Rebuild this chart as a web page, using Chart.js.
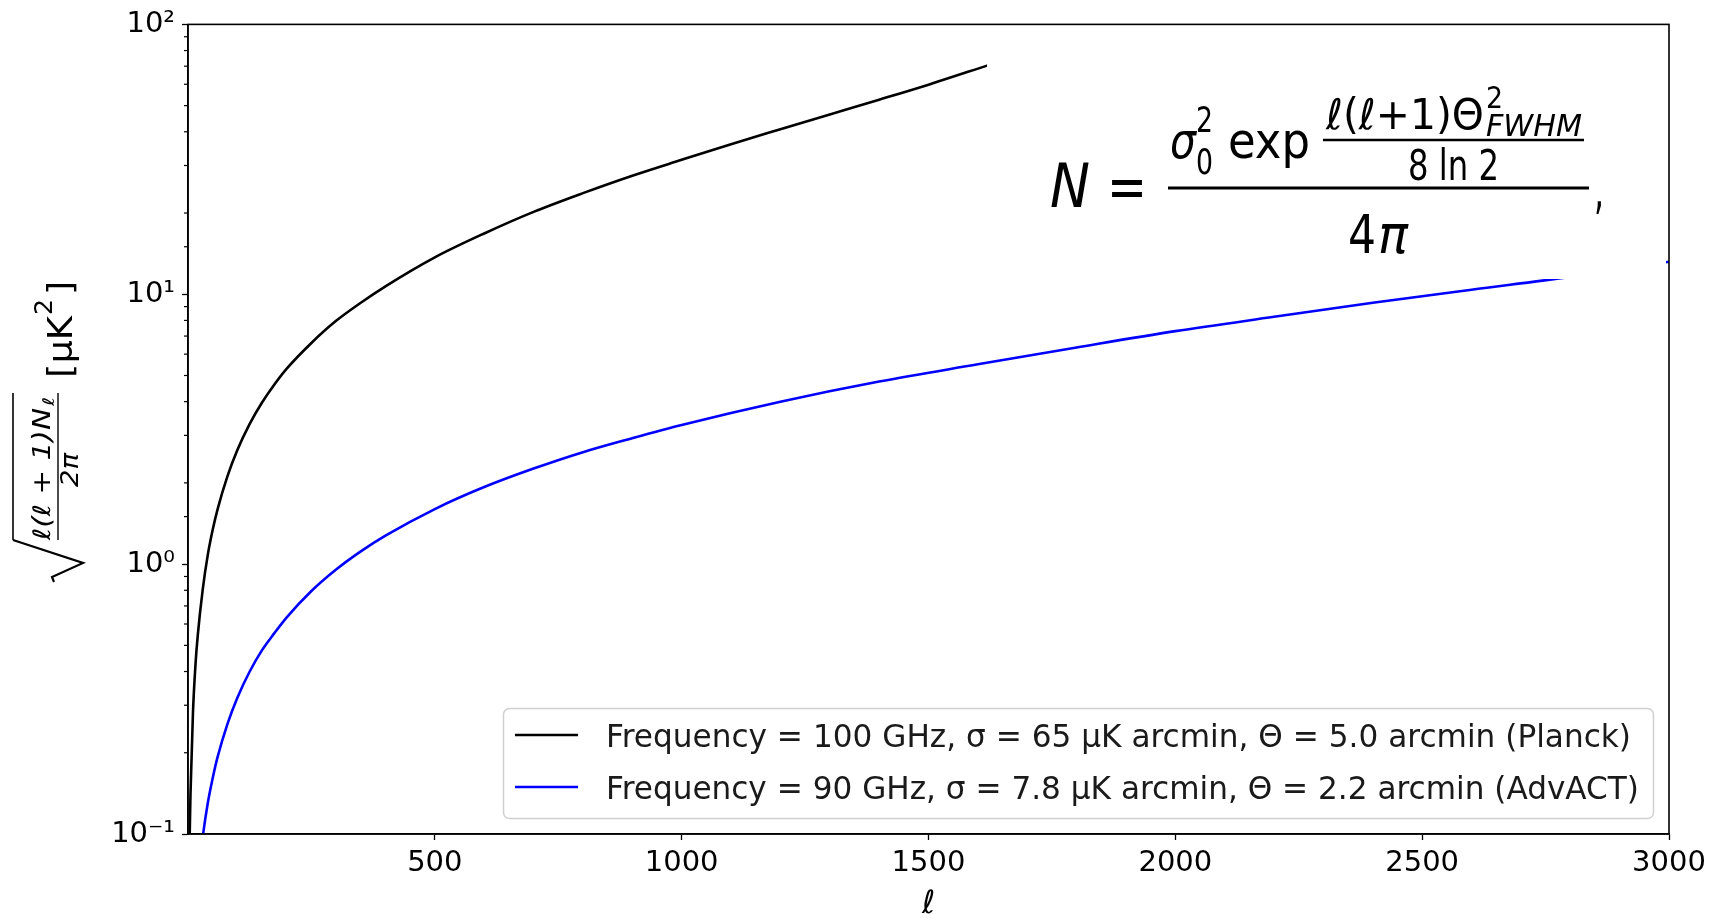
<!DOCTYPE html>
<html>
<head>
<meta charset="utf-8">
<script src="https://cdn.jsdelivr.net/npm/chart.js@4/dist/chart.umd.min.js"></script>
<style>
  html, body { margin: 0; padding: 0; background: #fff; }
  #wrap { width: 1711px; height: 924px; position: relative; }
</style>
</head>
<body>
<div id="wrap"><canvas id="c"></canvas></div>
<script>
// ---- data ----
const ellPlanck = [3,5,10,15,20,30,40,50,60,80,100,125,150,175,200,250,300,350,400,500,600,700,800,900,1000,1100,1200,1300,1400,1500,1620];
const nlPlanck  = [0.09,0.14,0.28,0.42,0.55,0.81,1.08,1.34,1.6,2.12,2.65,3.31,3.97,4.63,5.3,6.6,7.97,9.3,10.7,13.7,16.8,20.2,23.7,27.5,31.5,36.0,40.9,46.4,52.6,59.8,70.5];
const ellAdvACT = [25,30,40,50,60,80,100,125,150,175,200,250,300,350,400,500,600,700,800,900,1000,1200,1400,1600,1800,2000,2200,2400,2600,2800,3000];
const nlAdvACT  = [0.082,0.098,0.13,0.161,0.193,0.256,0.32,0.40,0.48,0.555,0.635,0.795,0.955,1.115,1.275,1.6,1.93,2.26,2.6,2.93,3.28,4.0,4.75,5.5,6.35,7.3,8.25,9.3,10.4,11.6,13.2];
const seriesLabels = [
  "Frequency = 100 GHz, σ = 65 μK arcmin, Θ = 5.0 arcmin (Planck)",
  "Frequency = 90 GHz, σ = 7.8 μK arcmin, Θ = 2.2 arcmin (AdvACT)"
];
const xTicks = [500, 1000, 1500, 2000, 2500, 3000];
const yTickLabels = { "0.1": "10⁻¹", "1": "10⁰", "10": "10¹", "100": "10²" };

const toPts = (xs, ys) => xs.map((x, i) => ({ x: x, y: ys[i] }));

function fitText(ctx, text, x, y, w, font) {
  ctx.save();
  ctx.font = font;
  ctx.textAlign = 'left';
  ctx.textBaseline = 'alphabetic';
  const m = ctx.measureText(text).width;
  const sx = w ? w / m : 1;
  ctx.translate(x, y);
  ctx.scale(sx, 1);
  ctx.fillText(text, 0, 0);
  ctx.restore();
}
function line(ctx, x1, y1, x2, y2, w, c) {
  ctx.save();
  ctx.strokeStyle = c || '#000';
  ctx.lineWidth = w;
  ctx.beginPath(); ctx.moveTo(x1, y1); ctx.lineTo(x2, y2); ctx.stroke();
  ctx.restore();
}
function isMajor(v) {
  const l = Math.log10(v);
  return Math.abs(l - Math.round(l)) < 1e-6;
}

const overlayPlugin = {
  id: 'overlay',
  afterDatasetsDraw(chart) {
    const ctx = chart.ctx;
    // white pasted box holding the formula
    ctx.save();
    ctx.fillStyle = '#ffffff';
    ctx.fillRect(987, 24, chart.chartArea.right - 3 - 987, 279 - 24);
    ctx.restore();
  },
  afterDraw(chart) {
    const ctx = chart.ctx;
    const a = chart.chartArea;
    const ys = chart.scales.y;
    // frame
    ctx.save();
    ctx.strokeStyle = '#000';
    ctx.lineWidth = 1.6;
    ctx.strokeRect(a.left, a.top, a.right - a.left, a.bottom - a.top);
    ctx.restore();
    // minor y ticks (shorter)
    ys.ticks.forEach(t => {
      if (!isMajor(t.value)) {
        const py = ys.getPixelForValue(t.value);
        line(ctx, a.left - 4, py, a.left, py, 1.2);
      }
    });

    // ---- formula ----
    ctx.save();
    ctx.fillStyle = '#000';
    fitText(ctx, 'N', 1050, 207, 40, 'italic 60px "DejaVu Sans"');
    fitText(ctx, '=', 1107, 207, 40, '60px "DejaVu Sans"');
    line(ctx, 1168, 188, 1589, 188, 3);
    fitText(ctx, 'σ', 1170, 158, 26, 'italic 50px "DejaVu Sans"');
    fitText(ctx, '2', 1196, 132, 17, '36px "DejaVu Sans"');
    fitText(ctx, '0', 1196, 174, 17, '36px "DejaVu Sans"');
    fitText(ctx, 'exp', 1228, 158, 82, '50px "DejaVu Sans"');
    fitText(ctx, 'ℓ(ℓ+1)Θ', 1326, 129, 158, '42px "DejaVu Sans"');
    fitText(ctx, '2', 1486, 108, 17, '30px "DejaVu Sans"');
    fitText(ctx, 'FWHM', 1486, 136, 96, 'italic 31px "DejaVu Sans"');
    line(ctx, 1323, 140, 1584, 140, 2.6);
    fitText(ctx, '8 ln 2', 1408, 180, 91, '42px "DejaVu Sans"');
    fitText(ctx, '4', 1348, 253, 28, '54px "DejaVu Sans"');
    fitText(ctx, 'π', 1378, 253, 30, 'italic 54px "DejaVu Sans"');
    fitText(ctx, ',', 1594, 208, 10, '54px "DejaVu Sans"');
    ctx.restore();

    // ---- y-axis title: sqrt( l(l+1)N_l / 2pi ) [muK^2] ----
    line(ctx, 13, 393, 13, 540, 1.6);
    ctx.save();
    ctx.strokeStyle = '#000'; ctx.lineWidth = 2.2; ctx.lineJoin = 'miter';
    ctx.beginPath(); ctx.moveTo(13, 540); ctx.lineTo(83, 563); ctx.lineTo(52, 577); ctx.lineTo(54, 582); ctx.stroke();
    ctx.restore();
    ctx.save();
    ctx.fillStyle = '#000';
    ctx.translate(0, 431);
    ctx.rotate(-Math.PI / 2);
    fitText(ctx, 'ℓ(ℓ + 1)N', -109, 50, 132, 'italic 24px "DejaVu Sans"');
    fitText(ctx, 'ℓ', 25, 54, 9, 'italic 16px "DejaVu Sans"');
    fitText(ctx, '2π', -56, 78, 34, 'italic 24px "DejaVu Sans"');
    fitText(ctx, '[μK', 53, 72, 62, '34px "DejaVu Sans"');
    fitText(ctx, '2', 116, 52, 16, '24px "DejaVu Sans"');
    fitText(ctx, ']', 136, 72, 14, '34px "DejaVu Sans"');
    ctx.restore();
    line(ctx, 58, 393, 58, 540, 1.4);

    // ---- legend ----
    ctx.save();
    ctx.fillStyle = 'rgba(255,255,255,0.85)';
    ctx.strokeStyle = '#d0d0d0';
    ctx.lineWidth = 1.5;
    ctx.beginPath();
    ctx.roundRect(503.5, 708.5, 1150, 110, 6);
    ctx.fill(); ctx.stroke();
    ctx.restore();
    const rows = [735, 787];
    const widths = [1025, 1033];
    chart.data.datasets.forEach((ds, i) => {
      line(ctx, 515, rows[i], 578, rows[i], 2.6, ds.borderColor);
      ctx.save();
      ctx.fillStyle = '#1a1a1a';
      fitText(ctx, ds.label, 606, rows[i] + 12, widths[i], '32px "DejaVu Sans"');
      ctx.restore();
    });
  }
};

new Chart(document.getElementById('c'), {
  type: 'line',
  data: {
    datasets: [
      { label: seriesLabels[0], data: toPts(ellPlanck, nlPlanck), borderColor: '#000000', borderWidth: 2.6, pointRadius: 0, cubicInterpolationMode: 'monotone', fill: false },
      { label: seriesLabels[1], data: toPts(ellAdvACT, nlAdvACT), borderColor: '#0000ff', borderWidth: 2.6, pointRadius: 0, cubicInterpolationMode: 'monotone', fill: false }
    ]
  },
  options: {
    responsive: true,
    maintainAspectRatio: false,
    devicePixelRatio: 1,
    animation: false,
    events: [],
    layout: { padding: { left: 0, right: 42, top: 24, bottom: 0 } },
    plugins: { legend: { display: false }, tooltip: { enabled: false } },
    scales: {
      x: {
        type: 'linear',
        min: 0, max: 3000,
        afterBuildTicks: s => { s.ticks = xTicks.map(v => ({ value: v })); },
        afterFit: s => { s.height = 90; s.paddingRight = 0; },
        ticks: { autoSkip: false, maxRotation: 0, color: '#000', padding: 6, font: { family: 'DejaVu Sans', size: 29 }, callback: v => String(v) },
        grid: { drawOnChartArea: false, drawTicks: true, tickLength: 6, color: '#000', tickWidth: 1.3 },
        border: { display: true, color: '#000', width: 1.6 },
        title: { display: true, text: 'ℓ', color: '#000', font: { family: 'DejaVu Sans', size: 32, style: 'italic' }, padding: { top: 0, bottom: 0 } }
      },
      y: {
        type: 'logarithmic',
        min: 0.1, max: 100,
        afterFit: s => { s.width = 188; },
        ticks: {
          autoSkip: false,
          color: '#000',
          padding: 7,
          font: { family: 'DejaVu Sans', size: 29 },
          callback: v => yTickLabels[String(v)] !== undefined ? yTickLabels[String(v)] : ''
        },
        grid: {
          drawOnChartArea: false, drawTicks: true, tickLength: 6, tickWidth: 1.3,
          tickColor: c => (c.tick && isMajor(c.tick.value)) ? '#000' : 'rgba(0,0,0,0)'
        },
        border: { display: true, color: '#000', width: 1.6 }
      }
    }
  },
  plugins: [overlayPlugin]
});
</script>
</body>
</html>
